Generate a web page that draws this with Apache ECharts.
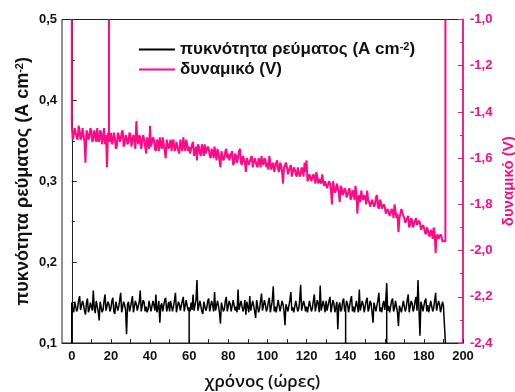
<!DOCTYPE html>
<html><head><meta charset="utf-8">
<script src="https://cdn.jsdelivr.net/npm/echarts@6/dist/echarts.min.js"></script>
<style>html,body{margin:0;padding:0;background:#fff}#c{width:515px;height:392px}</style>
</head><body><div id="c"></div>
<script>
// current density (A cm^-2) at whole hours 0..190
const current = [
0.150,0.138,0.152,0.143,0.158,0.140,0.147,0.135,0.155,0.142,
0.149,0.165,0.137,0.146,0.128,0.153,0.141,0.160,0.139,0.148,
0.143,0.156,0.136,0.150,0.145,0.162,0.140,0.147,0.111,0.151,
0.144,0.158,0.139,0.148,0.142,0.165,0.137,0.150,0.145,0.141,
0.152,0.138,0.147,0.160,0.143,0.125,0.149,0.140,0.156,0.144,
0.139,0.151,0.145,0.162,0.137,0.148,0.142,0.157,0.140,0.146,
0.144,0.150,0.160,0.139,0.178,0.141,0.152,0.136,0.149,0.143,
0.155,0.138,0.147,0.163,0.140,0.146,0.124,0.151,0.142,0.157,
0.141,0.148,0.137,0.152,0.145,0.166,0.139,0.150,0.143,0.135,
0.149,0.158,0.140,0.146,0.131,0.154,0.142,0.161,0.138,0.147,
0.143,0.156,0.139,0.170,0.145,0.137,0.152,0.141,0.148,0.122,
0.150,0.140,0.163,0.144,0.136,0.153,0.142,0.172,0.139,0.147,
0.145,0.137,0.151,0.143,0.160,0.140,0.148,0.171,0.138,0.146,
0.152,0.141,0.157,0.139,0.149,0.144,0.117,0.150,0.142,0.155,
0.143,0.148,0.139,0.158,0.145,0.136,0.152,0.166,0.141,0.147,
0.140,0.156,0.143,0.149,0.125,0.151,0.138,0.162,0.144,0.148,
0.141,0.174,0.146,0.137,0.155,0.143,0.150,0.121,0.147,0.139,
0.152,0.144,0.160,0.138,0.149,0.143,0.157,0.178,0.109,0.146,
0.141,0.155,0.147,0.137,0.150,0.143,0.162,0.139,0.148,0.144,
0.146];
// current density at half hours 0.5..189.5
const currentHalf = [
0.141,0.151,0.139,0.153,0.141,0.152,0.140,0.149,0.138,0.150,
0.140,0.143,0.152,0.139,0.151,0.138,0.152,0.140,0.151,0.139,
0.152,0.139,0.151,0.140,0.153,0.138,0.151,0.141,0.148,0.139,
0.151,0.138,0.152,0.140,0.151,0.139,0.153,0.139,0.138,0.152,
0.139,0.152,0.140,0.138,0.152,0.146,0.139,0.153,0.139,0.151,
0.152,0.139,0.153,0.138,0.151,0.140,0.152,0.139,0.153,0.140,
0.139,0.141,0.140,0.153,0.140,0.152,0.139,0.151,0.140,0.152,
0.139,0.152,0.139,0.140,0.152,0.138,0.150,0.139,0.152,0.139,
0.152,0.139,0.153,0.140,0.138,0.141,0.152,0.139,0.153,0.151,
0.138,0.140,0.152,0.139,0.153,0.138,0.152,0.140,0.153,0.139,
0.151,0.138,0.152,0.139,0.138,0.153,0.139,0.152,0.139,0.148,
0.139,0.153,0.140,0.138,0.152,0.139,0.153,0.140,0.152,0.139,
0.138,0.152,0.139,0.152,0.139,0.153,0.138,0.140,0.152,0.138,
0.140,0.152,0.138,0.153,0.138,0.151,0.146,0.139,0.152,0.139,
0.152,0.138,0.153,0.139,0.138,0.152,0.138,0.140,0.152,0.138,
0.152,0.139,0.152,0.138,0.150,0.139,0.153,0.139,0.138,0.152,
0.152,0.140,0.138,0.152,0.139,0.152,0.138,0.146,0.138,0.152,
0.139,0.153,0.138,0.152,0.139,0.152,0.140,0.141,0.151,0.139,
0.152,0.139,0.138,0.152,0.139,0.152,0.140,0.152,0.138,0.151];
// potential (V) at whole hours 0..190
const potential = [
-1.46,-1.50,-1.47,-1.52,-1.48,-1.51,-1.47,-1.62,-1.49,-1.51,
-1.48,-1.52,-1.50,-1.47,-1.53,-1.49,-1.51,-1.54,-1.64,-1.50,
-1.49,-1.53,-1.51,-1.55,-1.50,-1.52,-1.48,-1.54,-1.51,-1.53,
-1.50,-1.55,-1.52,-1.44,-1.54,-1.51,-1.56,-1.52,-1.58,-1.53,
-1.46,-1.55,-1.52,-1.57,-1.53,-1.51,-1.56,-1.54,-1.60,-1.52,
-1.54,-1.57,-1.52,-1.56,-1.53,-1.58,-1.55,-1.51,-1.57,-1.54,
-1.55,-1.58,-1.53,-1.57,-1.61,-1.55,-1.59,-1.56,-1.54,-1.58,
-1.56,-1.60,-1.57,-1.55,-1.61,-1.58,-1.64,-1.57,-1.60,-1.56,
-1.58,-1.61,-1.57,-1.62,-1.59,-1.60,-1.56,-1.63,-1.59,-1.66,
-1.60,-1.63,-1.59,-1.62,-1.60,-1.64,-1.61,-1.59,-1.63,-1.61,
-1.62,-1.59,-1.65,-1.62,-1.64,-1.61,-1.66,-1.63,-1.71,-1.64,
-1.64,-1.67,-1.63,-1.66,-1.65,-1.68,-1.64,-1.67,-1.65,-1.62,
-1.61,-1.69,-1.67,-1.70,-1.68,-1.66,-1.71,-1.69,-1.67,-1.72,
-1.70,-1.73,-1.71,-1.80,-1.72,-1.74,-1.71,-1.79,-1.73,-1.75,
-1.74,-1.76,-1.73,-1.77,-1.75,-1.72,-1.84,-1.76,-1.74,-1.78,
-1.77,-1.74,-1.79,-1.81,-1.78,-1.80,-1.76,-1.82,-1.79,-1.81,
-1.81,-1.84,-1.82,-1.85,-1.83,-1.80,-1.86,-1.92,-1.84,-1.82,
-1.86,-1.88,-1.85,-1.89,-1.87,-1.90,-1.86,-1.89,-1.88,-1.91,
-1.90,-1.93,-1.91,-1.94,-1.92,-1.90,-2.01,-1.93,-1.95,-1.94,
-1.96];
// potential at half hours 0.5..189.5
const potentialHalf = [
-1.52,-1.47,-1.51,-1.46,-1.52,-1.47,-1.53,-1.48,-1.52,-1.47,
-1.53,-1.48,-1.53,-1.52,-1.48,-1.54,-1.47,-1.50,-1.49,-1.53,
-1.54,-1.49,-1.56,-1.49,-1.53,-1.49,-1.55,-1.50,-1.54,-1.49,
-1.55,-1.50,-1.56,-1.52,-1.50,-1.56,-1.50,-1.55,-1.51,-1.56,
-1.55,-1.51,-1.56,-1.52,-1.57,-1.54,-1.51,-1.57,-1.52,-1.56,
-1.52,-1.53,-1.57,-1.53,-1.57,-1.52,-1.57,-1.54,-1.52,-1.57,
-1.58,-1.54,-1.59,-1.55,-1.54,-1.58,-1.54,-1.59,-1.58,-1.55,
-1.59,-1.56,-1.60,-1.58,-1.56,-1.61,-1.57,-1.61,-1.57,-1.60,
-1.61,-1.58,-1.63,-1.58,-1.62,-1.57,-1.62,-1.59,-1.62,-1.60,
-1.63,-1.60,-1.64,-1.60,-1.63,-1.60,-1.64,-1.62,-1.60,-1.64,
-1.65,-1.62,-1.63,-1.66,-1.62,-1.65,-1.62,-1.66,-1.64,-1.62,
-1.67,-1.64,-1.68,-1.64,-1.67,-1.64,-1.68,-1.64,-1.68,-1.66,
-1.70,-1.67,-1.70,-1.67,-1.71,-1.68,-1.69,-1.71,-1.70,-1.70,
-1.73,-1.70,-1.74,-1.70,-1.75,-1.71,-1.75,-1.72,-1.76,-1.73,
-1.77,-1.74,-1.78,-1.74,-1.78,-1.75,-1.77,-1.79,-1.77,-1.76,
-1.80,-1.78,-1.81,-1.78,-1.81,-1.77,-1.81,-1.78,-1.82,-1.80,
-1.84,-1.82,-1.85,-1.82,-1.86,-1.83,-1.84,-1.86,-1.82,-1.85,
-1.88,-1.86,-1.90,-1.86,-1.90,-1.87,-1.89,-1.87,-1.91,-1.89,
-1.92,-1.90,-1.93,-1.91,-1.95,-1.92,-1.94,-1.95,-1.93,-1.96];
const currentSpikeHours = [60, 140, 161];
const currentSpikeValue = 0.1;
const potentialSpikeHours = [19];
const potentialSpikeValue = -1.0;
const endHour = 191;
const xTickValues = [0,10,20,30,40,50,60,70,80,90,100,110,120,130,140,150,160,170,180,190,200];
const xLabelValues = [0,20,40,60,80,100,120,140,160,180,200];
const nameCurrent = 'πυκνότητα ρεύματος (A cm-2)';
const namePotential = 'δυναμικό (V)';

function build(vals, half, spikes, spikeVal) {
  const d = [[0, spikeVal]];
  vals.forEach((v, i) => {
    d.push([i, v]);
    if (spikes.indexOf(i) >= 0) { d.push([i, spikeVal]); d.push([i, v]); }
    if (i < half.length) d.push([i + 0.5, half[i]]);
  });
  d.push([endHour, vals[vals.length - 1]]);
  d.push([endHour, spikeVal]);
  return d;
}
const PINK = '#ff0a84';
const fmt = v => v.toFixed(1).replace('.', ',');
const chart = echarts.init(document.getElementById('c'));
chart.setOption({
  animation: false,
  textStyle: { fontFamily: 'Liberation Sans' },
  grid: { left: 62, right: 52, top: 19.5, bottom: 49, show: true, borderColor: '#222', borderWidth: 1,
    outerBoundsMode: 'none', containLabel: false },
  legend: {
    orient: 'vertical', left: 139, top: 41, padding: 0, itemWidth: 36, itemHeight: 2, itemGap: 3,
    icon: 'rect',
    data: [nameCurrent, namePotential],
    formatter: n => n === nameCurrent ? 'πυκνότητα ρεύματος (A cm{sup|-2})' : n,
    textStyle: { fontSize: 17, fontWeight: 'bold', color: '#111', fontFamily: 'Liberation Sans',
      rich: { sup: { fontSize: 11, fontWeight: 'bold', verticalAlign: 'top', fontFamily: 'Liberation Sans', color: '#111' } } }
  },
  xAxis: {
    type: 'value', min: -5, max: 200,
    name: 'χρόνος (ώρες)', nameLocation: 'middle', nameGap: 31, nameMoveOverlap: false,
    nameTextStyle: { fontSize: 17, fontFamily: 'Open Sans', fontWeight: 600, color: '#111' },
    axisLine: { show: true, lineStyle: { color: '#222', width: 1 } },
    axisTick: { show: true, inside: true, length: 4, customValues: xTickValues, lineStyle: { color: '#222' } },
    axisLabel: { customValues: xLabelValues, fontSize: 13, fontWeight: 'bold', color: '#111', margin: 7 },
    splitLine: { show: false }
  },
  yAxis: [{
    type: 'value', min: 0.1, max: 0.5, interval: 0.1, position: 'left',
    name: 'πυκνότητα ρεύματος (A cm{sup|-2})', nameLocation: 'middle', nameGap: 30, nameRotate: 90,
    nameMoveOverlap: false,
    nameTextStyle: { fontSize: 18, fontWeight: 'bold', color: '#111',
      rich: { sup: { fontSize: 11, fontWeight: 'bold', verticalAlign: 'top', color: '#111' } } },
    axisLine: { show: true, lineStyle: { color: '#222', width: 1 } },
    axisTick: { show: true, inside: true, length: 5, lineStyle: { color: '#222' } },
    minorTick: { show: true, splitNumber: 2, length: 3, lineStyle: { color: '#222' } },
    axisLabel: { formatter: fmt, fontSize: 13, fontWeight: 'bold', color: '#111', margin: 5 },
    splitLine: { show: false }
  }, {
    type: 'value', min: -2.4, max: -1.0, interval: 0.2, position: 'right',
    name: namePotential, nameLocation: 'middle', nameGap: 38, nameRotate: 90,
    nameMoveOverlap: false,
    nameTextStyle: { fontSize: 15, fontWeight: 'bold', color: PINK },
    axisLine: { show: true, lineStyle: { color: PINK, width: 1.5 } },
    axisTick: { show: true, inside: true, length: 5, lineStyle: { color: PINK } },
    minorTick: { show: true, splitNumber: 2, length: 3, lineStyle: { color: PINK } },
    axisLabel: { formatter: fmt, fontSize: 13, fontWeight: 'bold', color: PINK, margin: 7 },
    splitLine: { show: false }
  }],
  series: [{
    name: nameCurrent, type: 'line', yAxisIndex: 0, showSymbol: false, symbol: 'none',
    data: build(current, currentHalf, currentSpikeHours, currentSpikeValue),
    lineStyle: { color: '#000', width: 1.5 }, itemStyle: { color: '#000' }, z: 3
  }, {
    name: namePotential, type: 'line', yAxisIndex: 1, showSymbol: false, symbol: 'none',
    data: build(potential, potentialHalf, potentialSpikeHours, potentialSpikeValue),
    lineStyle: { color: PINK, width: 2 }, itemStyle: { color: PINK }, z: 2
  }]
});
</script></body></html>
